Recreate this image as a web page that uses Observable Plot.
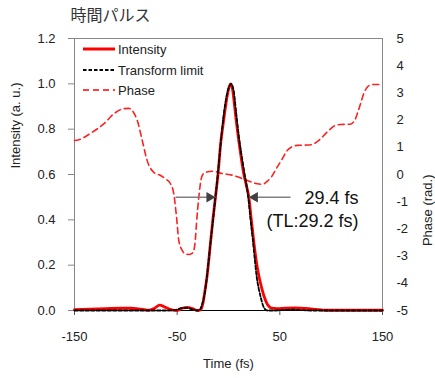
<!DOCTYPE html>
<html><head><meta charset="utf-8">
<script src="https://cdn.jsdelivr.net/npm/d3@7"></script>
<script src="https://cdn.jsdelivr.net/npm/@observablehq/plot@0.6"></script>
<style>body{margin:0;background:#fff}#chart{position:relative;width:435px;height:378px}</style>
</head><body><div id="chart"></div>
<script>
// Intensity (measured pulse)
const intensity = [[-150,0.004],[-135,0.006],[-120,0.008],[-105,0.01],[-95,0.01],[-85,0.006],[-77,0.002],[-72,0.01],[-67,0.024],[-62,0.015],[-56,0.004],[-50,0.0],[-45,0.01],[-40,0.014],[-35,0.008],[-30,0.0],[-27.5,0.002],[-25,0.03],[-23,0.085],[-20.8,0.154],[-17.5,0.3],[-15,0.41],[-12.7,0.5],[-10,0.61],[-7.8,0.73],[-5,0.83],[-2.9,0.9],[0,0.975],[2,1.0],[4,0.975],[6,0.9],[8,0.82],[10,0.75],[12.5,0.67],[15,0.6],[17.5,0.55],[19.8,0.5],[22,0.41],[24.7,0.3],[27,0.22],[29.5,0.154],[32,0.105],[34.4,0.066],[37,0.035],[39,0.02],[42,0.01],[47,0.008],[55,0.01],[65,0.011],[75,0.009],[85,0.005],[92,0.002],[100,0.001],[120,0.001],[150,0.001]];
// Transform limit
const transformLimit = [[-150,0],[-100,0],[-60,0],[-52,0.002],[-46,0.01],[-41,0.012],[-36,0.006],[-31,0],[-28,0.003],[-25.5,0.03],[-23,0.08],[-21,0.15],[-17.5,0.3],[-12.7,0.5],[-10,0.62],[-7.5,0.74],[-5,0.85],[-2.5,0.93],[0,0.98],[2.5,1.0],[5,0.97],[7.5,0.87],[10,0.77],[15,0.62],[19.5,0.49],[21.5,0.4],[23.5,0.32],[25.5,0.23],[27.3,0.154],[29.3,0.1],[31.2,0.062],[33.8,0.02],[36,0.004],[38,0],[45,0],[55,0.003],[62,0.004],[70,0.002],[80,0],[150,0]];
// Phase (rad.)
const phase = [[-150,1.25],[-145.8,1.28],[-133,1.55],[-121.5,1.86],[-111.7,2.23],[-102,2.42],[-97,2.43],[-93.8,2.35],[-88.9,1.99],[-84,1.25],[-79.2,0.51],[-72.8,0.08],[-67,-0.02],[-61.4,-0.16],[-56.5,-0.34],[-53.3,-0.71],[-50.6,-1.57],[-48.4,-2.43],[-45.1,-2.79],[-42,-2.92],[-38.7,-2.94],[-35.5,-2.9],[-33.8,-2.79],[-32.3,-2.4],[-31.2,-1.81],[-28.9,-0.83],[-26.6,-0.16],[-24.5,0.03],[-22.4,0.08],[-14.3,0.12],[-7.8,0.05],[5.2,-0.04],[18.2,-0.22],[28,-0.34],[33,-0.36],[37.7,-0.25],[42,-0.08],[47.4,0.27],[52,0.55],[57.2,0.88],[62,1.02],[66.9,1.07],[75,1.08],[81.5,1.1],[85,1.17],[89.6,1.31],[95,1.52],[99.4,1.68],[104,1.8],[109.1,1.84],[118.8,1.85],[121.5,1.92],[123.7,2.05],[126,2.3],[128.6,2.6],[131.5,2.95],[135.1,3.21],[138,3.29],[141.6,3.31],[150,3.31]];

const xTicks = [-150,-50,50,150];
const yTicks = [0,0.2,0.4,0.6,0.8,1.0,1.2];
const phaseTicks = [-5,-4,-3,-2,-1,0,1,2,3,4,5];
const fwhmArrows = [{from:-51.6, to:-12.7, y:0.5},{from:60.4, to:19.8, y:0.5}];
const annotations = [{x:126.6, y:0.494, text:"29.4 fs"},{x:126.6, y:0.392, text:"(TL:29.2 fs)"}];
const legendItems = [
  {label:"Intensity", stroke:"#ff0000", width:3, dash:null},
  {label:"Transform limit", stroke:"#000", width:1.8, dash:"3.5,2"},
  {label:"Phase", stroke:"#ff0000", width:1.6, dash:"6,4"}
];

const PMIN=-5, PMAX=5, YMAX=1.2;
const p2y = p => (p-PMIN)/(PMAX-PMIN)*YMAX;
const font = "'Liberation Sans', Arial, sans-serif";

const plot = Plot.plot({
  width:435, height:378,
  marginLeft:74, marginRight:53, marginTop:38, marginBottom:68,
  style:{fontFamily:font, fontSize:"13px", color:"#222", background:"#fff"},
  x:{domain:[-150,150]},
  y:{domain:[0,YMAX]},
  marks:[
    Plot.frame({stroke:"#888"}),
    Plot.axisY({ticks:yTicks, tickFormat:d=>d.toFixed(1), tickSize:6, tickPadding:13, stroke:"#888", label:null, fontSize:13}),
    Plot.axisY(phaseTicks.map(p2y), {anchor:"right", tickSize:0, tickPadding:14, tickFormat:d=>String(Math.round(d/YMAX*(PMAX-PMIN)+PMIN)), label:null, fontSize:13}),
    Plot.axisX({ticks:xTicks, tickFormat:d=>String(d), tickSize:5, tickPadding:16, label:null, fontSize:13, stroke:"#555"}),
    Plot.ruleY([0], {stroke:"#000", strokeWidth:1.2}),
    Plot.line(phase, {x:d=>d[0], y:d=>p2y(d[1]), stroke:"#ff2020", strokeWidth:1.6, strokeDasharray:"6,4", curve:"monotone-x"}),
    Plot.line(intensity, {x:d=>d[0], y:d=>d[1], stroke:"#ff0000", strokeWidth:2.8, curve:"monotone-x"}),
    Plot.line(transformLimit, {x:d=>d[0], y:d=>d[1], stroke:"#000", strokeWidth:1.8, strokeDasharray:"3.5,2", curve:"monotone-x"}),
    Plot.link(fwhmArrows, {x1:"from", x2:"to", y1:"y", y2:"y", stroke:"#808080", strokeWidth:1.5}),
    Plot.dot(fwhmArrows.filter(d=>d.to>d.from), {x:"to", y:"y", symbol:"triangle2", r:5, fill:"#404040", rotate:90, dx:-6}),
    Plot.dot(fwhmArrows.filter(d=>d.to<d.from), {x:"to", y:"y", symbol:"triangle2", r:5, fill:"#404040", rotate:-90, dx:6}),
    Plot.text(annotations, {x:"x", y:"y", text:"text", textAnchor:"end", fontSize:18, fill:"#111", fontFamily:font}),
    Plot.text(["時間パルス"], {frameAnchor:"top-left", dx:-4, dy:-23, lineAnchor:"middle", textAnchor:"start", fontSize:16, fill:"#333", fontFamily:"'Noto Sans CJK JP', sans-serif"}),
    Plot.text(["Time (fs)"], {frameAnchor:"bottom", dy:53, lineAnchor:"middle", fontSize:13, fill:"#222"}),
    Plot.text(["Intensity (a. u.)"], {frameAnchor:"left", dx:-59, dy:-6, rotate:-90, lineAnchor:"middle", fontSize:13, fill:"#222"}),
    Plot.text(["Phase (rad.)"], {frameAnchor:"right", dx:45, dy:0, rotate:-90, lineAnchor:"middle", fontSize:13, fill:"#222"})
  ]
});

const svg = d3.select(plot);
const lg = svg.append("g").attr("font-family", font).attr("font-size", 13).attr("text-anchor", "start");
legendItems.forEach((it,i)=>{
  const y = [49,70,90][i];
  lg.append("line").attr("x1",83).attr("x2",115).attr("y1",y).attr("y2",y)
    .attr("stroke",it.stroke).attr("stroke-width",it.width).attr("stroke-dasharray",it.dash);
  lg.append("text").attr("x",118).attr("y",y).attr("dy","0.35em").attr("fill","#222").attr("text-anchor","start").text(it.label);
});
document.getElementById("chart").appendChild(plot);
</script></body></html>
